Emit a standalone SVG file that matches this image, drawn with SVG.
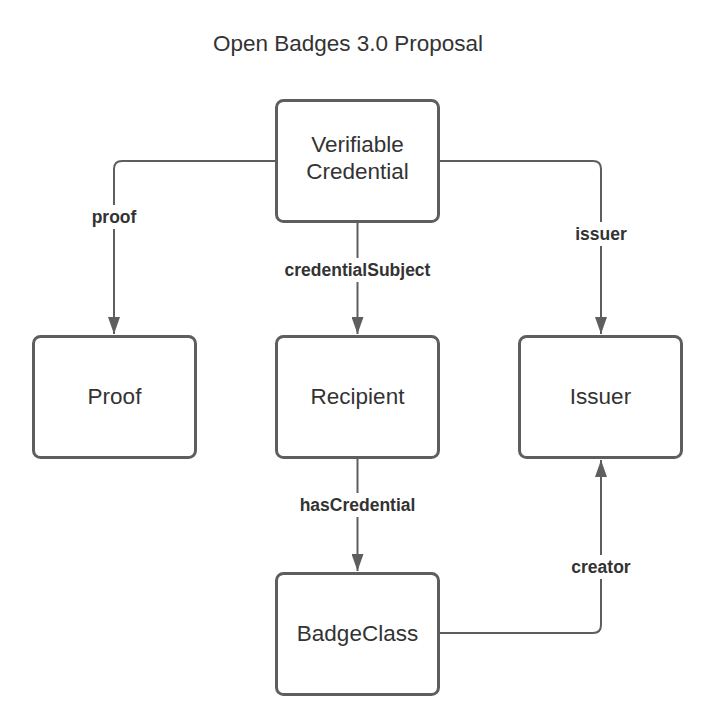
<svg xmlns="http://www.w3.org/2000/svg" width="714" height="718" viewBox="0 0 714 718">
<style>
.node rect{fill:#fff;stroke:#5e5e5e;stroke-width:3}
.node text{font-family:"Liberation Sans",Arial,sans-serif;font-size:22.5px;fill:#333;text-anchor:middle}
.conn path{fill:none;stroke:#5e5e5e;stroke-width:2}
.lbl{font-family:"Liberation Sans",Arial,sans-serif;font-size:17.5px;font-weight:bold;fill:#333;text-anchor:middle}
.bg{fill:#fff}
</style>
<defs>
<marker id="arr" viewBox="0 0 17 12" refX="17" refY="6" markerWidth="17" markerHeight="12" markerUnits="userSpaceOnUse" orient="auto">
<path d="M0,0 L17,6 L0,12 Z" fill="#5e5e5e"/>
</marker>
</defs>
<rect width="714" height="718" fill="#fff"/>
<text x="348" y="51" font-family="Liberation Sans,Arial,sans-serif" font-size="22.5" fill="#333" text-anchor="middle">Open Badges 3.0 Proposal</text>
<g class="conn">
<path d="M276,161 H122 Q114,161 114,169 V334" marker-end="url(#arr)"/>
<path d="M357.5,222 V334" marker-end="url(#arr)"/>
<path d="M439,161 H593 Q601,161 601,169 V334" marker-end="url(#arr)"/>
<path d="M357.5,458 V571" marker-end="url(#arr)"/>
<path d="M439,633 H593 Q601,633 601,625 V460" marker-end="url(#arr)"/>
<rect class="bg" x="82" y="205" width="64" height="24"/>
<text class="lbl" x="114" y="223">proof</text>
<rect class="bg" x="280" y="258" width="155" height="24"/>
<text class="lbl" x="357.5" y="276">credentialSubject</text>
<rect class="bg" x="567" y="222" width="68" height="24"/>
<text class="lbl" x="601" y="240">issuer</text>
<rect class="bg" x="294" y="493" width="127" height="24"/>
<text class="lbl" x="357.5" y="511">hasCredential</text>
<rect class="bg" x="564" y="555" width="74" height="24"/>
<text class="lbl" x="601" y="573">creator</text>
</g>
<g id="vc" class="node"><rect x="276.5" y="100.5" width="162" height="121" rx="7"/><text x="357.5" y="152">Verifiable</text><text x="357.5" y="179">Credential</text></g>
<g id="proof" class="node"><rect x="33.5" y="336.5" width="162" height="121" rx="7"/><text x="114.5" y="404">Proof</text></g>
<g id="recipient" class="node"><rect x="276.5" y="336.5" width="162" height="121" rx="7"/><text x="357.5" y="404">Recipient</text></g>
<g id="issuer" class="node"><rect x="519.5" y="336.5" width="162" height="121" rx="7"/><text x="600.5" y="404">Issuer</text></g>
<g id="badgeclass" class="node"><rect x="276.5" y="573.5" width="162" height="121" rx="7"/><text x="357.5" y="641">BadgeClass</text></g>
</svg>
